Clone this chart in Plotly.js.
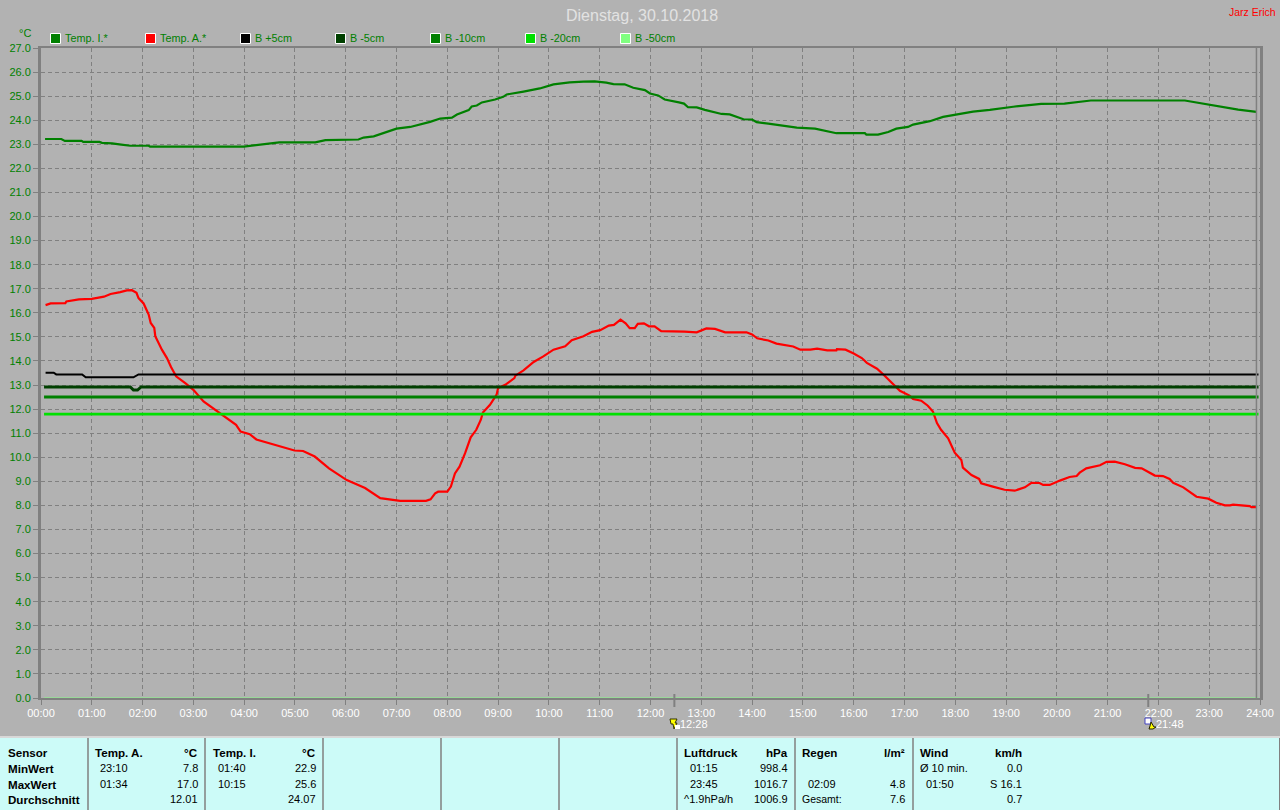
<!DOCTYPE html>
<html><head><meta charset="utf-8">
<script src="https://cdn.plot.ly/plotly-3.0.1.min.js"></script>
<style>html,body{margin:0;padding:0;background:#b2b2b2}#c{width:1280px;height:810px}</style>
</head><body><div id="c"></div>
<script>
var titleText = "Dienstag, 30.10.2018";
var ownerText = "Jarz Erich";
var hourLabels = ["00:00","01:00","02:00","03:00","04:00","05:00","06:00","07:00","08:00","09:00","10:00","11:00","12:00","13:00","14:00","15:00","16:00","17:00","18:00","19:00","20:00","21:00","22:00","23:00","24:00"];
var hourVals = [0,1,2,3,4,5,6,7,8,9,10,11,12,13,14,15,16,17,18,19,20,21,22,23,24];
var tempVals = [0,1,2,3,4,5,6,7,8,9,10,11,12,13,14,15,16,17,18,19,20,21,22,23,24,25,26,27];
var seriesNames = ["Temp. I.*","Temp. A.*","B +5cm","B -5cm","B -10cm","B -20cm","B -50cm"];
var seriesColors = ["#008000","#ff0000","#000000","#004000","#008000","#00e000","#80ff80"];

var tempI_t = [0.08,0.4,0.47,0.8,0.83,1.15,1.2,1.4,1.58,1.76,2.12,2.15,3.99,4.19,4.52,4.69,5.4,5.6,6.25,6.35,6.55,6.88,7,7.27,7.66,7.86,8.09,8.19,8.42,8.48,8.58,8.68,8.94,9.1,9.17,9.5,9.82,10.09,10.41,10.68,10.9,11.13,11.27,11.49,11.66,11.89,11.99,12.15,12.28,12.56,12.66,12.74,12.91,13.07,13.24,13.4,13.56,13.7,13.83,14,14.09,14.32,14.55,14.88,15.24,15.47,15.66,16.22,16.25,16.48,16.68,16.84,17.07,17.17,17.5,17.76,18.02,18.35,18.68,19,19.14,19.5,19.69,20.15,20.44,20.67,22.52,22.81,23.08,23.34,23.57,23.93];
var tempI_v = [23.22,23.22,23.14,23.14,23.1,23.1,23.06,23.04,22.99,22.94,22.94,22.9,22.9,22.96,23.03,23.08,23.08,23.17,23.2,23.28,23.33,23.56,23.65,23.72,23.93,24.07,24.11,24.24,24.42,24.57,24.61,24.74,24.86,24.97,25.07,25.19,25.32,25.49,25.57,25.6,25.61,25.56,25.5,25.49,25.35,25.25,25.11,25.03,24.86,24.74,24.69,24.54,24.53,24.43,24.35,24.26,24.24,24.14,24.04,24.03,23.92,23.86,23.78,23.69,23.65,23.54,23.46,23.46,23.4,23.4,23.51,23.65,23.72,23.82,23.96,24.14,24.24,24.36,24.43,24.5,24.56,24.64,24.68,24.69,24.76,24.82,24.82,24.71,24.61,24.53,24.44,24.35];

var tempA_t = [0.09,0.19,0.48,0.5,0.745,1,1.24,1.37,1.56,1.69,1.79,1.88,1.92,2.02,2.12,2.16,2.23,2.25,2.38,2.48,2.56,2.66,2.84,3,3.2,3.39,3.56,3.72,3.84,3.93,4.11,4.24,4.5,4.76,4.99,5.16,5.39,5.67,6.02,6.38,6.68,7.07,7.58,7.67,7.76,7.82,8,8.07,8.15,8.24,8.35,8.46,8.57,8.66,8.7,8.84,8.97,9,9.14,9.32,9.34,9.5,9.7,9.89,10.09,10.32,10.45,10.68,10.85,11.01,11.18,11.28,11.41,11.51,11.59,11.69,11.75,11.87,11.97,12.08,12.21,12.67,12.91,13.1,13.27,13.47,13.89,14,14.1,14.32,14.48,14.81,14.95,15.15,15.28,15.48,15.66,15.67,15.84,16,16.16,16.26,16.46,16.59,16.78,16.91,17.1,17.17,17.33,17.46,17.56,17.64,17.72,17.86,17.99,18.12,18.15,18.32,18.47,18.51,18.74,18.97,19.17,19.37,19.5,19.66,19.73,19.86,20.06,20.25,20.39,20.45,20.58,20.85,20.98,21.14,21.34,21.54,21.67,21.86,21.93,22.09,22.22,22.29,22.49,22.75,22.98,23.14,23.31,23.41,23.47,23.8,23.83,23.93];
var tempA_v = [16.32,16.39,16.4,16.47,16.56,16.58,16.67,16.78,16.86,16.93,16.94,16.83,16.61,16.39,15.93,15.58,15.37,15.03,14.47,14.12,13.75,13.36,13.08,12.8,12.32,12.04,11.79,11.56,11.35,11.07,10.96,10.74,10.58,10.42,10.28,10.26,10.03,9.54,9.05,8.72,8.3,8.19,8.19,8.25,8.5,8.57,8.57,8.78,9.33,9.61,10.17,10.83,11.14,11.56,11.86,12.18,12.6,12.88,13.01,13.29,13.39,13.61,13.96,14.19,14.47,14.61,14.86,15.03,15.21,15.28,15.47,15.5,15.72,15.56,15.36,15.36,15.54,15.56,15.44,15.44,15.24,15.22,15.19,15.35,15.33,15.19,15.19,15.1,14.94,14.85,14.72,14.6,14.47,14.47,14.51,14.44,14.44,14.49,14.47,14.31,14.12,13.92,13.68,13.43,13.04,12.76,12.56,12.42,12.35,12.14,11.9,11.42,11.14,10.79,10.19,9.89,9.57,9.26,9.1,8.92,8.78,8.65,8.61,8.75,8.94,8.93,8.85,8.85,9.03,9.18,9.22,9.36,9.54,9.67,9.81,9.82,9.71,9.56,9.54,9.33,9.24,9.22,9.1,8.94,8.75,8.36,8.28,8.11,8,8,8.03,7.97,7.93,7.93];

var bP5_t = [0.09,0.25,0.3,0.81,0.88,1.82,1.92,23.97];
var bP5_v = [13.51,13.51,13.44,13.44,13.32,13.32,13.44,13.44];
var bM5_t = [0.06,1.76,1.82,1.9,1.97,23.97];
var bM5_v = [12.92,12.92,12.79,12.79,12.92,12.92];
var bM10_t = [0.06,23.97];
var bM10_v = [12.5,12.5];
var bM20_t = [0.06,23.97];
var bM20_v = [11.79,11.79];
var bM50_t = [0.06,23.97];
var bM50_v = [0.0,0.0];

var eventTimes = [12.47,21.8];
var eventLabels = ["12:28","21:48"];

var tableDividers = [88,205,323,441,559,677,795,913];
var tableRows = [752,768,784,799];
var sensorCol = ["Sensor","MinWert","MaxWert","Durchschnitt"];
var tempAHead = ["Temp. A.","°C"];
var tempATimes = ["23:10","01:34",""];
var tempAValues = ["7.8","17.0","12.01"];
var tempIHead = ["Temp. I.","°C"];
var tempITimes = ["01:40","10:15",""];
var tempIValues = ["22.9","25.6","24.07"];
var pressHead = ["Luftdruck","hPa"];
var pressTimes = ["01:15","23:45",""];
var pressTrend = "^1.9hPa/h";
var pressValues = ["998.4","1016.7","1006.9"];
var rainHead = ["Regen","l/m²"];
var rainTimes = ["","02:09",""];
var rainTotal = "Gesamt:";
var rainValues = ["","4.8","7.6"];
var windHead = ["Wind","km/h"];
var windTimes = ["","01:50",""];
var windLabel = "Ø 10 min.";
var windValues = ["0.0","S 16.1","0.7"];

var L=41,R=1260,T=48,B=698;
function px(x){return (x-L)/(R-L);}
function py(y){return (B-y)/(B-T);}
var FONT='"Liberation Sans", Arial, sans-serif';
var ann=[],shp=[];
function txt(s,x,y,anchor,color,size,bold){
  if(!s)return;
  ann.push({text:bold?'<b>'+s+'</b>':s,xref:'paper',yref:'paper',x:px(x),y:py(y),xanchor:anchor,yanchor:'middle',showarrow:false,
    font:{family:FONT,size:size,color:color},borderpad:0,borderwidth:0});
}
function rect(x0,y0,x1,y1,fill,line,w){
  shp.push({type:'rect',xref:'paper',yref:'paper',x0:px(x0),x1:px(x1),y0:py(y0),y1:py(y1),fillcolor:fill,line:{color:line||fill,width:w||0},layer:'above'});
}
function poly(pts,fill,line){
  var d=pts.map(function(p,i){return (i?'L':'M')+px(p[0])+','+py(p[1]);}).join(' ')+' Z';
  shp.push({type:'path',xref:'paper',yref:'paper',path:d,fillcolor:fill,line:{color:line||fill,width:line?1:0},layer:'above'});
}

txt(titleText,642,15,'center','#e2e2e2',16);
txt(ownerText,1276,12,'right','#ff0000',10.5);
txt('°C',25,33,'center','#008000',11);

seriesNames.forEach(function(n,i){
  var x=50+95*i;
  rect(x+0.5,33.5,x+10.5,43.5,seriesColors[i],'#ffffff',1);
  txt(n,x+15,38,'left','#008000',10.8);
});

shp.push({type:'line',xref:'x',yref:'paper',x0:23.93,x1:23.93,y0:0,y1:1,line:{color:'#808080',width:1.5},layer:'above'});

eventTimes.forEach(function(t,i){
  shp.push({type:'line',xref:'x',yref:'paper',x0:t,x1:t,y0:py(694),y1:py(707),line:{color:'#808080',width:2},layer:'above'});
});
txt(eventLabels[0],680,724,'left','#ffffff',11);
txt(eventLabels[1],1156,724,'left','#ffffff',11);
poly([[670,719],[677,719],[675,723],[677,723],[674,729],[673,724],[671,724]],'#ffff00','#333300');
rect(675,725,680,729,'#ffffff');
rect(1145,718,1151,724,'#ffffff','#4040c0',1);
poly([[1151,722],[1154,727],[1156,727],[1153,729],[1149,729],[1150,726]],'#ffff00','#222200');

rect(0,738,1280,810,'#ccfbf8');
shp.push({type:'line',xref:'paper',yref:'paper',x0:px(0),x1:px(1280),y0:py(737),y1:py(737),line:{color:'#ffffff',width:1},layer:'above'});
tableDividers.forEach(function(x){
  shp.push({type:'line',xref:'paper',yref:'paper',x0:px(x),x1:px(x),y0:py(738),y1:py(810),line:{color:'#808080',width:1.5},layer:'above'});
});
shp.push({type:'line',xref:'paper',yref:'paper',x0:px(1279.5),x1:px(1279.5),y0:py(738),y1:py(810),line:{color:'#808080',width:1},layer:'above'});

sensorCol.forEach(function(s,i){txt(s,8,tableRows[i],'left','#000',11.6,true);});
function col(head,x0,xr,times,vals,tx){
  txt(head[0],x0,tableRows[0],'left','#000',11.6,true);
  txt(head[1],xr,tableRows[0],'right','#000',11.6,true);
  times.forEach(function(t,i){txt(t,tx,tableRows[i+1],'left','#000',11);});
  vals.forEach(function(v,i){txt(v,xr,tableRows[i+1],'right','#000',11);});
}
col(tempAHead,95,198,tempATimes,tempAValues,100);
col(tempIHead,213,316,tempITimes,tempIValues,218);
col(pressHead,684,788,pressTimes,pressValues,690);
col(rainHead,802,905,rainTimes,rainValues,808);
col(windHead,920,1022,windTimes,windValues,926);
txt(pressTrend,684,tableRows[3],'left','#000',11);
txt(rainTotal,802,tableRows[3],'left','#000',10.5);
txt(windLabel,920,tableRows[1],'left','#000',11);

var xs=[tempI_t,tempA_t,bP5_t,bM5_t,bM10_t,bM20_t,bM50_t];
var ys=[tempI_v,tempA_v,bP5_v,bM5_v,bM10_v,bM20_v,bM50_v];
var widths=[2.2,2.2,2,3,3,2.6,1];
var traces=seriesNames.map(function(n,i){
  return {type:'scatter',mode:'lines',name:n,x:xs[i],y:ys[i],cliponaxis:false,
    line:{color:seriesColors[i],width:widths[i],shape:'linear'},hoverinfo:'skip',showlegend:false};
});

var layout={
  width:1280,height:810,autosize:false,showlegend:false,
  margin:{l:L,r:1280-R,t:T,b:810-B,pad:0},
  paper_bgcolor:'#b2b2b2',plot_bgcolor:'#b2b2b2',
  font:{family:FONT,size:11,color:'#008000'},
  xaxis:{range:[0,24],tickmode:'array',tickvals:hourVals,ticktext:hourLabels,tickangle:0,
    tickfont:{family:FONT,size:11,color:'#ffffff'},ticks:'outside',ticklen:5,tickwidth:1,tickcolor:'#808080',ticklabelstandoff:-1,
    showgrid:true,gridcolor:'#808080',griddash:'4px,3px',gridwidth:1,zeroline:false,
    showline:true,linecolor:'#808080',linewidth:2,mirror:true,fixedrange:true},
  yaxis:{range:[0,27],tickmode:'array',tickvals:tempVals,ticktext:tempVals.map(function(v){return v.toFixed(1);}),
    tickfont:{family:FONT,size:11,color:'#008000'},ticks:'outside',ticklen:5,tickwidth:1,tickcolor:'#808080',
    showgrid:true,gridcolor:'#808080',griddash:'4px,3px',gridwidth:1,zeroline:false,
    showline:true,linecolor:'#808080',linewidth:3,mirror:true,fixedrange:true},
  annotations:ann,shapes:shp
};
Plotly.newPlot('c',traces,layout,{displayModeBar:false,staticPlot:true});
</script></body></html>
